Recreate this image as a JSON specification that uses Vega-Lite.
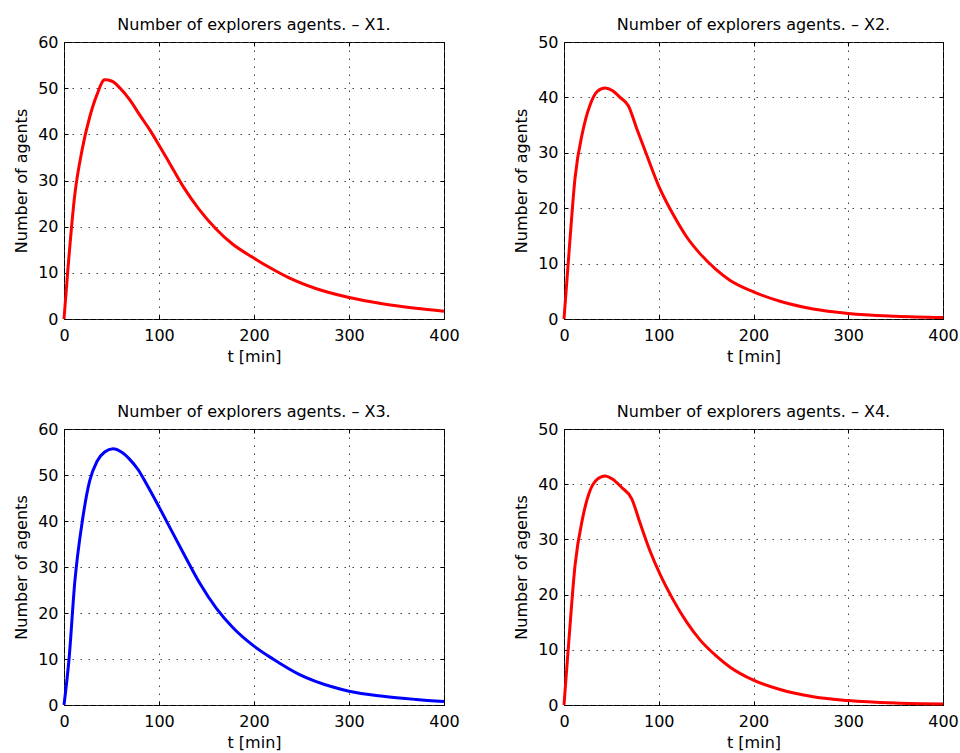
{
  "$schema": "https://vega.github.io/schema/vega-lite/v6.json",
  "background": "white",
  "padding": {"left": 13, "top": 16, "right": 2, "bottom": 0},
  "datasets": {
    "x1": [
      {"t":0,"y":0},{"t":4,"y":10.5},{"t":11.3,"y":26.8},{"t":19.3,"y":36.9},{"t":27,"y":43.7},{"t":34.7,"y":48.6},{"t":42.8,"y":51.8},{"t":50.6,"y":51.5},{"t":59,"y":50},{"t":69.5,"y":47.4},{"t":80,"y":44.1},{"t":90.5,"y":40.9},{"t":101,"y":37.3},{"t":111,"y":33.8},{"t":126,"y":28.5},{"t":142,"y":23.8},{"t":160,"y":19.5},{"t":177,"y":16.3},{"t":199,"y":13.3},{"t":216,"y":11.2},{"t":237,"y":8.9},{"t":265,"y":6.6},{"t":299,"y":4.7},{"t":335,"y":3.3},{"t":370,"y":2.35},{"t":400,"y":1.7}
    ],
    "x2": [
      {"t":0,"y":0},{"t":5.5,"y":12.5},{"t":11.6,"y":25.4},{"t":19.7,"y":33.8},{"t":27.4,"y":38.6},{"t":35.2,"y":41.1},{"t":43.3,"y":41.7},{"t":51.4,"y":41.2},{"t":59.1,"y":40},{"t":67.9,"y":38.5},{"t":76.7,"y":34.4},{"t":87.3,"y":29.6},{"t":100,"y":24},{"t":115.4,"y":18.8},{"t":129.5,"y":14.8},{"t":143.5,"y":11.8},{"t":160,"y":9},{"t":175,"y":7},{"t":200,"y":4.9},{"t":228,"y":3.2},{"t":263,"y":1.8},{"t":300,"y":1},{"t":350,"y":0.5},{"t":400,"y":0.25}
    ],
    "x3": [
      {"t":0,"y":0},{"t":5.3,"y":10},{"t":11.3,"y":26.6},{"t":19.3,"y":40},{"t":27,"y":48.7},{"t":34.8,"y":53},{"t":42.8,"y":55},{"t":51.6,"y":55.7},{"t":60.4,"y":55},{"t":69.2,"y":53.4},{"t":77.9,"y":51.2},{"t":86.7,"y":48.1},{"t":100.7,"y":42.8},{"t":114.7,"y":37.3},{"t":128.8,"y":31.8},{"t":142.8,"y":26.5},{"t":160.4,"y":21},{"t":177.9,"y":16.8},{"t":200,"y":12.8},{"t":220,"y":10},{"t":248,"y":6.6},{"t":283,"y":3.9},{"t":300,"y":3},{"t":336,"y":1.9},{"t":371,"y":1.2},{"t":400,"y":0.75}
    ],
    "x4": [
      {"t":0,"y":0},{"t":5.5,"y":12.5},{"t":11.6,"y":25.2},{"t":19.7,"y":33.9},{"t":27.4,"y":38.8},{"t":35.2,"y":40.9},{"t":43.3,"y":41.5},{"t":51.4,"y":40.9},{"t":60.9,"y":39.4},{"t":71.4,"y":37.4},{"t":80.2,"y":33},{"t":90.8,"y":27.9},{"t":101.3,"y":23.7},{"t":115.4,"y":19},{"t":129.5,"y":15},{"t":143.5,"y":11.8},{"t":160,"y":9},{"t":175,"y":6.9},{"t":200,"y":4.5},{"t":228,"y":2.8},{"t":263,"y":1.5},{"t":300,"y":0.8},{"t":350,"y":0.35},{"t":400,"y":0.18}
    ]
  },
  "columns": 2,
  "spacing": {"row": 38, "column": 53},
  "concat": [
    {
      "width": 380, "height": 277,
      "title": "Number of explorers agents. – X1.",
      "data": {"name": "x1"},
      "layer": [
        {"mark": {"type": "line", "color": "#ff0000", "strokeWidth": 3, "interpolate": "monotone"},
         "encoding": {
           "x": {"field": "t", "type": "quantitative", "scale": {"domain": [0, 400]}, "axis": {"title": "t [min]", "values": [0,100,200,300,400]}},
           "y": {"field": "y", "type": "quantitative", "scale": {"domain": [0, 60]}, "axis": {"title": "Number of agents", "values": [0,10,20,30,40,50,60]}}
         }},
        {"mark": {"type": "line", "opacity": 0},
         "encoding": {
           "x": {"field": "t", "type": "quantitative", "axis": {"orient": "top", "title": null, "labels": false, "grid": false, "values": [0,100,200,300,400]}},
           "y": {"field": "y", "type": "quantitative", "axis": {"orient": "right", "title": null, "labels": false, "grid": false, "values": [0,10,20,30,40,50,60]}}
         }}
      ],
      "resolve": {"axis": {"x": "independent", "y": "independent"}}
    },
    {
      "width": 379, "height": 277,
      "title": "Number of explorers agents. – X2.",
      "data": {"name": "x2"},
      "layer": [
        {"mark": {"type": "line", "color": "#ff0000", "strokeWidth": 3, "interpolate": "monotone"},
         "encoding": {
           "x": {"field": "t", "type": "quantitative", "scale": {"domain": [0, 400]}, "axis": {"title": "t [min]", "values": [0,100,200,300,400]}},
           "y": {"field": "y", "type": "quantitative", "scale": {"domain": [0, 50]}, "axis": {"title": "Number of agents", "values": [0,10,20,30,40,50]}}
         }},
        {"mark": {"type": "line", "opacity": 0},
         "encoding": {
           "x": {"field": "t", "type": "quantitative", "axis": {"orient": "top", "title": null, "labels": false, "grid": false, "values": [0,100,200,300,400]}},
           "y": {"field": "y", "type": "quantitative", "axis": {"orient": "right", "title": null, "labels": false, "grid": false, "values": [0,10,20,30,40,50]}}
         }}
      ],
      "resolve": {"axis": {"x": "independent", "y": "independent"}}
    },
    {
      "width": 380, "height": 276,
      "title": "Number of explorers agents. – X3.",
      "data": {"name": "x3"},
      "layer": [
        {"mark": {"type": "line", "color": "#0000ff", "strokeWidth": 3, "interpolate": "monotone"},
         "encoding": {
           "x": {"field": "t", "type": "quantitative", "scale": {"domain": [0, 400]}, "axis": {"title": "t [min]", "values": [0,100,200,300,400]}},
           "y": {"field": "y", "type": "quantitative", "scale": {"domain": [0, 60]}, "axis": {"title": "Number of agents", "values": [0,10,20,30,40,50,60]}}
         }},
        {"mark": {"type": "line", "opacity": 0},
         "encoding": {
           "x": {"field": "t", "type": "quantitative", "axis": {"orient": "top", "title": null, "labels": false, "grid": false, "values": [0,100,200,300,400]}},
           "y": {"field": "y", "type": "quantitative", "axis": {"orient": "right", "title": null, "labels": false, "grid": false, "values": [0,10,20,30,40,50,60]}}
         }}
      ],
      "resolve": {"axis": {"x": "independent", "y": "independent"}}
    },
    {
      "width": 379, "height": 276,
      "title": "Number of explorers agents. – X4.",
      "data": {"name": "x4"},
      "layer": [
        {"mark": {"type": "line", "color": "#ff0000", "strokeWidth": 3, "interpolate": "monotone"},
         "encoding": {
           "x": {"field": "t", "type": "quantitative", "scale": {"domain": [0, 400]}, "axis": {"title": "t [min]", "values": [0,100,200,300,400]}},
           "y": {"field": "y", "type": "quantitative", "scale": {"domain": [0, 50]}, "axis": {"title": "Number of agents", "values": [0,10,20,30,40,50]}}
         }},
        {"mark": {"type": "line", "opacity": 0},
         "encoding": {
           "x": {"field": "t", "type": "quantitative", "axis": {"orient": "top", "title": null, "labels": false, "grid": false, "values": [0,100,200,300,400]}},
           "y": {"field": "y", "type": "quantitative", "axis": {"orient": "right", "title": null, "labels": false, "grid": false, "values": [0,10,20,30,40,50]}}
         }}
      ],
      "resolve": {"axis": {"x": "independent", "y": "independent"}}
    }
  ],
  "config": {
    "font": "DejaVu Sans",
    "view": {"stroke": "#000000", "strokeWidth": 1},
    "axis": {
      "domain": false,
      "grid": true,
      "gridColor": "#444444",
      "gridDash": [1.5, 6.5],
      "gridWidth": 1,
      "gridOpacity": 1,
      "ticks": true,
      "tickColor": "#000000",
      "tickSize": -4,
      "tickWidth": 1,
      "labelFlush": false,
      "labelOverlap": false,
      "labelFont": "DejaVu Sans",
      "labelFontSize": 16,
      "labelColor": "#000000",
      "titleFont": "DejaVu Sans",
      "titleFontSize": 16,
      "titleFontWeight": "normal",
      "titleColor": "#000000"
    },
    "axisX": {"labelPadding": 12, "titlePadding": 5},
    "axisY": {"labelPadding": 10, "titlePadding": 8},
    "title": {"font": "DejaVu Sans", "fontSize": 16, "fontWeight": "normal", "color": "#000000", "offset": 1, "anchor": "middle"}
  }
}
